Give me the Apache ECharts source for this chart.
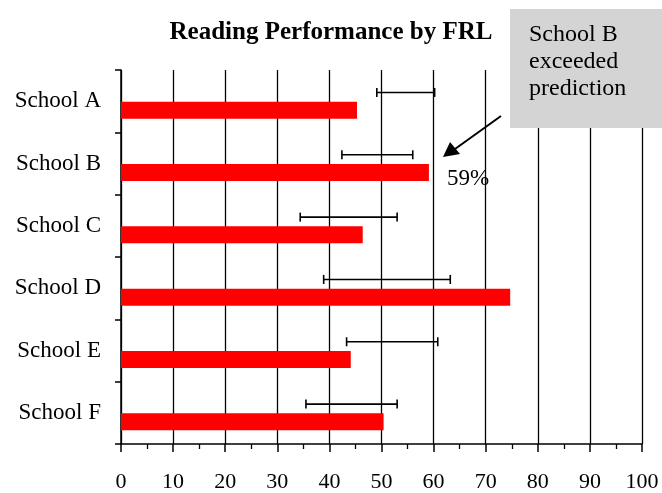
<!DOCTYPE html>
<html>
<head>
<meta charset="utf-8">
<script src="https://cdn.jsdelivr.net/npm/echarts@6/dist/echarts.min.js"></script>
<style>
html,body{margin:0;padding:0;background:#fff;}
#chart{width:662px;height:493px;}
</style>
</head>
<body>
<div id="chart"></div>
<script>
const categories = ['School A', 'School B', 'School C', 'School D', 'School E', 'School F'];
const scores = [45.3, 59.1, 46.4, 74.7, 44.1, 50.4];
const rangeLow = [49.1, 42.4, 34.4, 38.9, 43.3, 35.5];
const rangeHigh = [60.2, 56.0, 53.0, 63.2, 60.8, 53.0];
const xTicks = [0, 10, 20, 30, 40, 50, 60, 70, 80, 90, 100];
const titleText = 'Reading Performance by FRL';
const noteLines = ['School B', 'exceeded', 'prediction'];
const highlightIndex = 1;

const serif = '"Liberation Serif", "Times New Roman", serif';
const chart = echarts.init(document.getElementById('chart'), null, {renderer: 'canvas'});

const barData = scores.map((v, i) => i === highlightIndex ? {
  value: v,
  label: {
    show: true, position: 'right', distance: 18, offset: [0, 6],
    formatter: p => Math.round(p.value) + '%',
    fontFamily: serif, fontSize: 23, color: '#000'
  }
} : v);

const errData = categories.map((c, i) => [i, rangeLow[i], rangeHigh[i]]);

const option = {
  animation: false,
  backgroundColor: '#fff',
  title: {
    text: titleText, left: 326, top: 15, textAlign: 'center',
    textStyle: {fontFamily: serif, fontWeight: 'bold', fontSize: 25, color: '#000'}
  },
  grid: {left: 121, right: 20, top: 70, bottom: 46, containLabel: false},
  xAxis: {
    type: 'value', min: xTicks[0], max: xTicks[xTicks.length - 1], interval: 10,
    axisLine: {show: true, lineStyle: {color: '#000', width: 1.5}},
    axisTick: {show: true, length: 8, lineStyle: {color: '#000', width: 1.5}},
    minorTick: {show: true, splitNumber: 2, length: 5, lineStyle: {color: '#000', width: 1.3}},
    splitLine: {show: true, lineStyle: {color: '#000', width: 1.3}},
    axisLabel: {fontFamily: serif, fontSize: 22, color: '#000', margin: 27}
  },
  yAxis: {
    type: 'category', data: categories, inverse: true,
    axisLine: {show: true, lineStyle: {color: '#000', width: 1.5}},
    axisTick: {show: true, length: 6, lineStyle: {color: '#000', width: 1.5}},
    axisLabel: {fontFamily: serif, fontSize: 23, color: '#000', margin: 20},
    splitLine: {show: false}
  },
  series: [
    {
      name: 'placeholder', type: 'bar', data: rangeHigh, barWidth: 17, barGap: '6%',
      itemStyle: {color: 'rgba(0,0,0,0)'}, silent: true, z: 1
    },
    {
      name: 'Reading', type: 'bar', data: barData, barWidth: 17, barGap: '6%',
      itemStyle: {color: '#ff0000'}, z: 2
    },
    {
      name: 'Prediction range', type: 'custom', data: errData, z: 3,
      renderItem: function (params, api) {
        const cat = api.value(0);
        const lo = api.coord([api.value(1), cat]);
        const hi = api.coord([api.value(2), cat]);
        const band = api.size([0, 1])[1];
        const y = lo[1] - band * 0.14;
        const cap = 4.5;
        const style = {stroke: '#000', lineWidth: 1.6};
        return {
          type: 'group',
          children: [
            {type: 'line', shape: {x1: lo[0], y1: y, x2: hi[0], y2: y}, style: style},
            {type: 'line', shape: {x1: lo[0], y1: y - cap, x2: lo[0], y2: y + cap}, style: style},
            {type: 'line', shape: {x1: hi[0], y1: y - cap, x2: hi[0], y2: y + cap}, style: style}
          ]
        };
      }
    }
  ],
  graphic: [
    {
      type: 'rect', left: 510, top: 9, z: 10,
      shape: {width: 152, height: 119},
      style: {fill: '#d4d4d4'}
    },
    {
      type: 'text', left: 529, top: 21, z: 11,
      style: {
        text: noteLines.join('\n'), fontFamily: serif, fontSize: 24,
        lineHeight: 27, fill: '#000'
      }
    },
    {
      type: 'line', z: 11,
      shape: {x1: 501, y1: 116, x2: 455, y2: 149},
      style: {stroke: '#000', lineWidth: 2}
    },
    {
      type: 'polygon', z: 11,
      shape: {points: [[443, 157], [450, 142], [460, 154]]},
      style: {fill: '#000'}
    }
  ]
};
chart.setOption(option);
</script>
</body>
</html>
